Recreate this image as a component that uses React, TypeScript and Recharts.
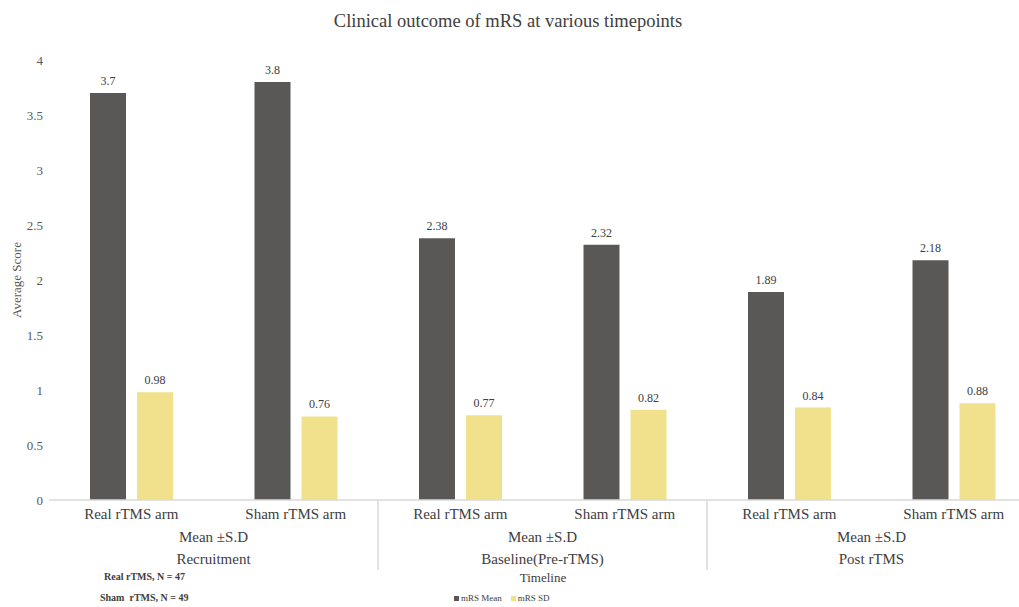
import { BarChart, Bar, XAxis, YAxis, LabelList } from 'recharts';

const arms = ['Real rTMS arm', 'Sham rTMS arm', 'Real rTMS arm', 'Sham rTMS arm', 'Real rTMS arm', 'Sham rTMS arm'];
const timepoints = ['Recruitment', 'Baseline(Pre-rTMS)', 'Post rTMS'];
const mrsMean = [3.7, 3.8, 2.38, 2.32, 1.89, 2.18];
const mrsSd = [0.98, 0.76, 0.77, 0.82, 0.84, 0.88];
const yTicks = [0, 0.5, 1, 1.5, 2, 2.5, 3, 3.5, 4];

const series = [
  { key: 'mean', name: 'mRS Mean', color: '#5a5856' },
  { key: 'sd', name: 'mRS SD', color: '#f1e18c' },
];

const data = arms.map((arm, i) => ({
  key: `${i}`,
  arm,
  timepoint: timepoints[Math.floor(i / 2)],
  mean: mrsMean[i],
  sd: mrsSd[i],
}));

const FONT = '"Liberation Serif", "DejaVu Serif", serif';
const CHART_W = 1040;
const CHART_H = 607;
const MARGIN = { top: 60, right: 4, left: 0, bottom: 37 };
const Y_W = 49;
const X_H = 70;
const BAND = (CHART_W - MARGIN.left - MARGIN.right - Y_W) / arms.length;
const AXIS_Y = CHART_H - MARGIN.bottom - X_H;

function ArmTick(props: any) {
  const { x, payload } = props;
  const i = payload.index;
  const row = data[i];
  const first = i % 2 === 0;
  return (
    <g>
      <text x={x} y={AXIS_Y + 19} textAnchor="middle" fontSize={15} fill="#404040" fontFamily={FONT}>
        {row.arm}
      </text>
      {first && (
        <>
          <text x={x + BAND / 2} y={AXIS_Y + 42} textAnchor="middle" fontSize={15} fill="#404040" fontFamily={FONT}>
            Mean ±S.D
          </text>
          <text x={x + BAND / 2} y={AXIS_Y + 64} textAnchor="middle" fontSize={15} fill="#404040" fontFamily={FONT}>
            {row.timepoint}
          </text>
        </>
      )}
      {first && i > 0 && (
        <line x1={x - BAND / 2} x2={x - BAND / 2} y1={AXIS_Y} y2={AXIS_Y + 70} stroke="#d9d9d9" strokeWidth={1.5} />
      )}
    </g>
  );
}

function YLabel(props: any) {
  const vb = props.viewBox || {};
  const cy = (vb.y ?? 60) + (vb.height ?? 440) / 2;
  return (
    <text x={21} y={cy} transform={`rotate(-90 21 ${cy})`} textAnchor="middle" fontSize={13} fill="#595959" fontFamily={FONT}>
      Average Score
    </text>
  );
}

export default function App() {
  return (
    <div style={{ position: 'fixed', left: 0, top: 0, width: 1019, height: 607, overflow: 'hidden', background: '#fff', fontFamily: FONT }}>
      <div style={{ position: 'absolute', top: 11, left: 0, width: 1016, textAlign: 'center', fontSize: 18.5, color: '#404040' }}>
        Clinical outcome of mRS at various timepoints
      </div>
      <BarChart width={CHART_W} height={CHART_H} data={data} margin={MARGIN} barSize={36} barGap={11}>
        <XAxis
          dataKey="key"
          height={X_H}
          interval={0}
          tickLine={false}
          axisLine={{ stroke: '#d9d9d9', strokeWidth: 1.5 }}
          tick={<ArmTick />}
        />
        <YAxis
          width={Y_W}
          domain={[0, 4]}
          ticks={yTicks}
          axisLine={false}
          tickLine={false}
          tick={{ fontSize: 13, fill: '#595959', fontFamily: FONT, dx: 2 }}
          label={<YLabel />}
        />
        {series.map((s) => (
          <Bar key={s.key} dataKey={s.key} name={s.name} fill={s.color} isAnimationActive={false}>
            <LabelList dataKey={s.key} position="top" offset={8} style={{ fontSize: 12, fill: '#404040', fontFamily: FONT }} />
          </Bar>
        ))}
      </BarChart>
      <div style={{ position: 'absolute', left: 443, top: 570, width: 200, textAlign: 'center', fontSize: 13, color: '#404040' }}>
        Timeline
      </div>
      <div style={{ position: 'absolute', left: 454, top: 593, display: 'flex', gap: 9, fontSize: 9, color: '#404040' }}>
        {series.map((s) => (
          <span key={s.key} style={{ display: 'flex', alignItems: 'center', gap: 2 }}>
            <span style={{ width: 5, height: 5, background: s.color, display: 'inline-block' }} />
            {s.name}
          </span>
        ))}
      </div>
      <div style={{ position: 'absolute', left: 104, top: 571, fontSize: 10, fontWeight: 'bold', color: '#404040' }}>
        Real rTMS, N = 47
      </div>
      <div style={{ position: 'absolute', left: 100, top: 592, fontSize: 10, fontWeight: 'bold', color: '#404040' }}>
        Sham&nbsp; rTMS, N = 49
      </div>
    </div>
  );
}
